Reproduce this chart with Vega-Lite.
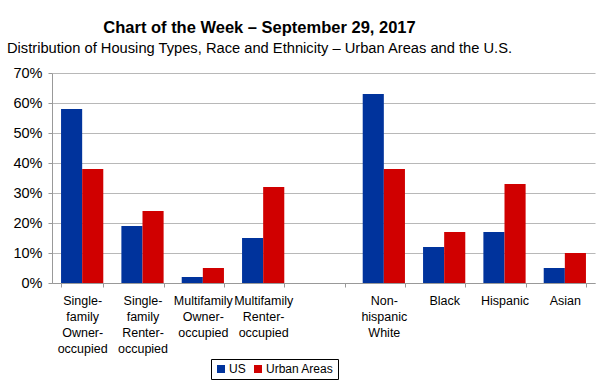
{
  "$schema": "https://vega.github.io/schema/vega-lite/v6.json",
  "width": 543,
  "height": 210,
  "autosize": {"type": "none"},
  "padding": {"left": 52, "top": 73, "right": 5, "bottom": 99},
  "background": "white",
  "title": {
    "text": "Chart of the Week – September 29, 2017",
    "subtitle": "Distribution of Housing Types, Race and Ethnicity – Urban Areas and the U.S.",
    "anchor": "middle",
    "dx": -64,
    "offset": 9,
    "font": "Liberation Sans",
    "fontSize": 16.5,
    "fontWeight": "bold",
    "color": "#000000",
    "subtitleFont": "Liberation Sans",
    "subtitleFontSize": 14.7,
    "subtitleColor": "#000000",
    "subtitlePadding": 5
  },
  "data": {
    "values": [
      {"category": "Single-|family|Owner-|occupied", "series": "US", "value": 0.58},
      {"category": "Single-|family|Owner-|occupied", "series": "Urban Areas", "value": 0.38},
      {"category": "Single-|family|Renter-|occupied", "series": "US", "value": 0.19},
      {"category": "Single-|family|Renter-|occupied", "series": "Urban Areas", "value": 0.24},
      {"category": "Multifamily|Owner-|occupied", "series": "US", "value": 0.02},
      {"category": "Multifamily|Owner-|occupied", "series": "Urban Areas", "value": 0.05},
      {"category": "Multifamily|Renter-|occupied", "series": "US", "value": 0.15},
      {"category": "Multifamily|Renter-|occupied", "series": "Urban Areas", "value": 0.32},
      {"category": "Non-|hispanic|White", "series": "US", "value": 0.63},
      {"category": "Non-|hispanic|White", "series": "Urban Areas", "value": 0.38},
      {"category": "Black", "series": "US", "value": 0.12},
      {"category": "Black", "series": "Urban Areas", "value": 0.17},
      {"category": "Hispanic", "series": "US", "value": 0.17},
      {"category": "Hispanic", "series": "Urban Areas", "value": 0.33},
      {"category": "Asian", "series": "US", "value": 0.05},
      {"category": "Asian", "series": "Urban Areas", "value": 0.10}
    ]
  },
  "mark": {"type": "bar"},
  "encoding": {
    "x": {
      "field": "category",
      "type": "nominal",
      "scale": {
        "domain": ["Single-|family|Owner-|occupied", "Single-|family|Renter-|occupied", "Multifamily|Owner-|occupied", "Multifamily|Renter-|occupied", "gap", "Non-|hispanic|White", "Black", "Hispanic", "Asian"],
        "paddingInner": 0.3,
        "paddingOuter": 0.15
      },
      "axis": {
        "title": null,
        "labelAngle": 0,
        "labelExpr": "(datum.value == null || datum.value == 'gap') ? '' : split(datum.value, '|')",
        "labelFont": "Liberation Sans",
        "labelFontSize": 12.5,
        "labelColor": "#000000",
        "labelLineHeight": 16,
        "labelBaseline": "top",
        "labelPadding": 7,
        "labelOverlap": false,
        "tickBand": "extent",
        "ticks": true,
        "tickSize": 4,
        "tickColor": "#999999",
        "domainColor": "#999999",
        "grid": false
      }
    },
    "xOffset": {"field": "series", "type": "nominal", "sort": ["US", "Urban Areas"], "scale": {"paddingInner": 0, "paddingOuter": 0}},
    "y": {
      "field": "value",
      "type": "quantitative",
      "scale": {"domain": [0, 0.7], "nice": false},
      "axis": {
        "title": null,
        "format": ".0%",
        "values": [0, 0.1, 0.2, 0.3, 0.4, 0.5, 0.6, 0.7],
        "labelFont": "Liberation Sans",
        "labelFontSize": 14.5,
        "labelColor": "#000000",
        "labelPadding": 6,
        "tickSize": 4,
        "tickColor": "#999999",
        "domainColor": "#999999",
        "gridColor": "#b8b8b8",
        "gridWidth": 1.2
      }
    },
    "color": {
      "field": "series",
      "type": "nominal",
      "sort": ["US", "Urban Areas"],
      "scale": {"domain": ["US", "Urban Areas"], "range": ["#00339c", "#d00000"]},
      "legend": {
        "title": null,
        "orient": "none",
        "direction": "horizontal",
        "legendX": 159,
        "legendY": 286,
        "symbolType": "square",
        "symbolSize": 64,
        "symbolStrokeWidth": 0,
        "labelFont": "Liberation Sans",
        "labelFontSize": 12,
        "labelColor": "#000000",
        "labelOffset": 2,
        "columnPadding": 6,
        "padding": 4,
        "strokeColor": "#000000",
        "fillColor": "#ffffff"
      }
    }
  },
  "config": {
    "view": {"stroke": null}
  }
}
